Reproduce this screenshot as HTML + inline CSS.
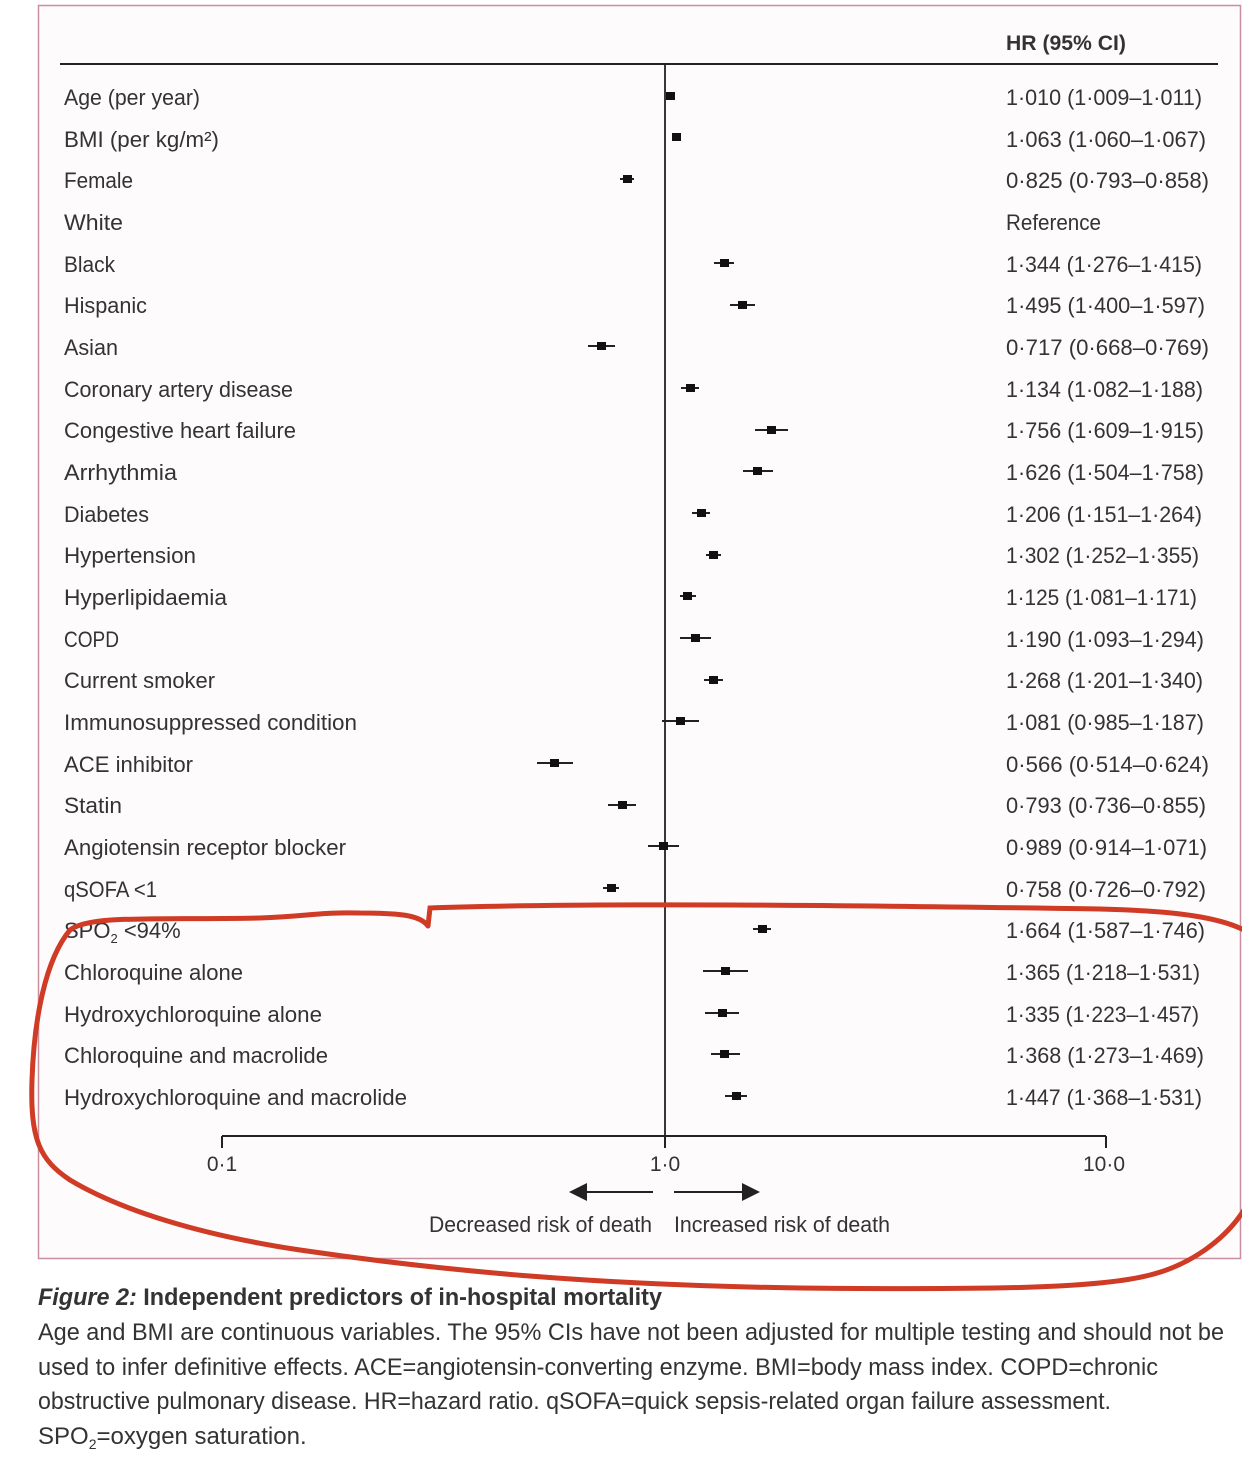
<!DOCTYPE html>
<html><head><meta charset="utf-8"><style>
body{margin:0;background:#fff}
svg{display:block}
text{font-family:"Liberation Sans",sans-serif;fill:#333}
</style></head><body>
<svg width="1242" height="1475" viewBox="0 0 1242 1475">
<rect x="38.5" y="5.5" width="1202" height="1253" fill="#fdfbfc" stroke="#c98f9f" stroke-width="1.5"/>
<line x1="60" y1="64" x2="1218" y2="64" stroke="#222" stroke-width="2"/>
<text x="1006" y="50" font-size="21" font-weight="bold" fill="#222" textLength="120" lengthAdjust="spacingAndGlyphs">HR (95% CI)</text>
<line x1="665" y1="64" x2="665" y2="1136" stroke="#222" stroke-width="1.8"/>
<line x1="222" y1="1136" x2="1106" y2="1136" stroke="#222" stroke-width="2"/>
<line x1="222" y1="1136" x2="222" y2="1148" stroke="#222" stroke-width="2"/>
<line x1="665" y1="1136" x2="665" y2="1148" stroke="#222" stroke-width="2"/>
<line x1="1106" y1="1136" x2="1106" y2="1148" stroke="#222" stroke-width="2"/>
<g font-size="21" text-anchor="middle">
<text x="222" y="1171">0·1</text><text x="665" y="1171">1·0</text><text x="1104" y="1171">10·0</text>
</g>
<line x1="585" y1="1192" x2="653" y2="1192" stroke="#222" stroke-width="2"/>
<polygon points="569,1192 587,1183 587,1201" fill="#222"/>
<line x1="674" y1="1192" x2="744" y2="1192" stroke="#222" stroke-width="2"/>
<polygon points="760,1192 742,1183 742,1201" fill="#222"/>
<text x="429" y="1232" font-size="22" textLength="223" lengthAdjust="spacingAndGlyphs">Decreased risk of death</text>
<text x="674" y="1232" font-size="22" textLength="216" lengthAdjust="spacingAndGlyphs">Increased risk of death</text>
<g font-size="22">
<text x="64" y="105" textLength="136" lengthAdjust="spacingAndGlyphs">Age (per year)</text>
<text x="64" y="147" textLength="155" lengthAdjust="spacingAndGlyphs">BMI (per kg/m²)</text>
<text x="64" y="188" textLength="69" lengthAdjust="spacingAndGlyphs">Female</text>
<text x="64" y="230" textLength="59" lengthAdjust="spacingAndGlyphs">White</text>
<text x="64" y="272" textLength="51" lengthAdjust="spacingAndGlyphs">Black</text>
<text x="64" y="313" textLength="83" lengthAdjust="spacingAndGlyphs">Hispanic</text>
<text x="64" y="355" textLength="54" lengthAdjust="spacingAndGlyphs">Asian</text>
<text x="64" y="397" textLength="229" lengthAdjust="spacingAndGlyphs">Coronary artery disease</text>
<text x="64" y="438" textLength="232" lengthAdjust="spacingAndGlyphs">Congestive heart failure</text>
<text x="64" y="480" textLength="113" lengthAdjust="spacingAndGlyphs">Arrhythmia</text>
<text x="64" y="522" textLength="85" lengthAdjust="spacingAndGlyphs">Diabetes</text>
<text x="64" y="563" textLength="132" lengthAdjust="spacingAndGlyphs">Hypertension</text>
<text x="64" y="605" textLength="163" lengthAdjust="spacingAndGlyphs">Hyperlipidaemia</text>
<text x="64" y="647" textLength="55" lengthAdjust="spacingAndGlyphs">COPD</text>
<text x="64" y="688" textLength="151" lengthAdjust="spacingAndGlyphs">Current smoker</text>
<text x="64" y="730" textLength="293" lengthAdjust="spacingAndGlyphs">Immunosuppressed condition</text>
<text x="64" y="772" textLength="129" lengthAdjust="spacingAndGlyphs">ACE inhibitor</text>
<text x="64" y="813" textLength="58" lengthAdjust="spacingAndGlyphs">Statin</text>
<text x="64" y="855" textLength="282" lengthAdjust="spacingAndGlyphs">Angiotensin receptor blocker</text>
<text x="64" y="897" textLength="93" lengthAdjust="spacingAndGlyphs">qSOFA &lt;1</text>
<text x="64" y="938">SPO<tspan font-size="13" dy="5">2</tspan><tspan dy="-5"> &lt;94%</tspan></text>
<text x="64" y="980" textLength="179" lengthAdjust="spacingAndGlyphs">Chloroquine alone</text>
<text x="64" y="1022" textLength="258" lengthAdjust="spacingAndGlyphs">Hydroxychloroquine alone</text>
<text x="64" y="1063" textLength="264" lengthAdjust="spacingAndGlyphs">Chloroquine and macrolide</text>
<text x="64" y="1105" textLength="343" lengthAdjust="spacingAndGlyphs">Hydroxychloroquine and macrolide</text>
</g>
<g font-size="22">
<text x="1006" y="105" textLength="196" lengthAdjust="spacingAndGlyphs">1·010 (1·009–1·011)</text>
<text x="1006" y="147" textLength="200" lengthAdjust="spacingAndGlyphs">1·063 (1·060–1·067)</text>
<text x="1006" y="188" textLength="203" lengthAdjust="spacingAndGlyphs">0·825 (0·793–0·858)</text>
<text x="1006" y="230" textLength="95" lengthAdjust="spacingAndGlyphs">Reference</text>
<text x="1006" y="272" textLength="196" lengthAdjust="spacingAndGlyphs">1·344 (1·276–1·415)</text>
<text x="1006" y="313" textLength="199" lengthAdjust="spacingAndGlyphs">1·495 (1·400–1·597)</text>
<text x="1006" y="355" textLength="203" lengthAdjust="spacingAndGlyphs">0·717 (0·668–0·769)</text>
<text x="1006" y="397" textLength="197" lengthAdjust="spacingAndGlyphs">1·134 (1·082–1·188)</text>
<text x="1006" y="438" textLength="198" lengthAdjust="spacingAndGlyphs">1·756 (1·609–1·915)</text>
<text x="1006" y="480" textLength="198" lengthAdjust="spacingAndGlyphs">1·626 (1·504–1·758)</text>
<text x="1006" y="522" textLength="196" lengthAdjust="spacingAndGlyphs">1·206 (1·151–1·264)</text>
<text x="1006" y="563" textLength="193" lengthAdjust="spacingAndGlyphs">1·302 (1·252–1·355)</text>
<text x="1006" y="605" textLength="191" lengthAdjust="spacingAndGlyphs">1·125 (1·081–1·171)</text>
<text x="1006" y="647" textLength="198" lengthAdjust="spacingAndGlyphs">1·190 (1·093–1·294)</text>
<text x="1006" y="688" textLength="197" lengthAdjust="spacingAndGlyphs">1·268 (1·201–1·340)</text>
<text x="1006" y="730" textLength="198" lengthAdjust="spacingAndGlyphs">1·081 (0·985–1·187)</text>
<text x="1006" y="772" textLength="203" lengthAdjust="spacingAndGlyphs">0·566 (0·514–0·624)</text>
<text x="1006" y="813" textLength="200" lengthAdjust="spacingAndGlyphs">0·793 (0·736–0·855)</text>
<text x="1006" y="855" textLength="201" lengthAdjust="spacingAndGlyphs">0·989 (0·914–1·071)</text>
<text x="1006" y="897" textLength="200" lengthAdjust="spacingAndGlyphs">0·758 (0·726–0·792)</text>
<text x="1006" y="938" textLength="199" lengthAdjust="spacingAndGlyphs">1·664 (1·587–1·746)</text>
<text x="1006" y="980" textLength="194" lengthAdjust="spacingAndGlyphs">1·365 (1·218–1·531)</text>
<text x="1006" y="1022" textLength="193" lengthAdjust="spacingAndGlyphs">1·335 (1·223–1·457)</text>
<text x="1006" y="1063" textLength="198" lengthAdjust="spacingAndGlyphs">1·368 (1·273–1·469)</text>
<text x="1006" y="1105" textLength="196" lengthAdjust="spacingAndGlyphs">1·447 (1·368–1·531)</text>
</g>
<g stroke="#222" stroke-width="2">
<line x1="620" y1="179" x2="634" y2="179"/>
<line x1="714" y1="263" x2="734" y2="263"/>
<line x1="730" y1="305" x2="755" y2="305"/>
<line x1="588" y1="346" x2="615" y2="346"/>
<line x1="681" y1="388" x2="699" y2="388"/>
<line x1="755" y1="430" x2="788" y2="430"/>
<line x1="743" y1="471" x2="773" y2="471"/>
<line x1="692" y1="513" x2="710" y2="513"/>
<line x1="706" y1="555" x2="721" y2="555"/>
<line x1="680" y1="596" x2="696" y2="596"/>
<line x1="680" y1="638" x2="711" y2="638"/>
<line x1="704" y1="680" x2="723" y2="680"/>
<line x1="662" y1="721" x2="699" y2="721"/>
<line x1="537" y1="763" x2="573" y2="763"/>
<line x1="608" y1="805" x2="636" y2="805"/>
<line x1="648" y1="846" x2="679" y2="846"/>
<line x1="603" y1="888" x2="619" y2="888"/>
<line x1="753" y1="929" x2="771" y2="929"/>
<line x1="703" y1="971" x2="748" y2="971"/>
<line x1="705" y1="1013" x2="739" y2="1013"/>
<line x1="711" y1="1054" x2="740" y2="1054"/>
<line x1="725" y1="1096" x2="747" y2="1096"/>
</g>
<g fill="#111">
<rect x="666" y="92" width="9" height="8"/>
<rect x="672" y="133" width="9" height="8"/>
<rect x="623" y="175" width="9" height="8"/>
<rect x="720" y="259" width="9" height="8"/>
<rect x="738" y="301" width="9" height="8"/>
<rect x="597" y="342" width="9" height="8"/>
<rect x="686" y="384" width="9" height="8"/>
<rect x="767" y="426" width="9" height="8"/>
<rect x="753" y="467" width="9" height="8"/>
<rect x="697" y="509" width="9" height="8"/>
<rect x="709" y="551" width="9" height="8"/>
<rect x="683" y="592" width="9" height="8"/>
<rect x="691" y="634" width="9" height="8"/>
<rect x="709" y="676" width="9" height="8"/>
<rect x="676" y="717" width="9" height="8"/>
<rect x="550" y="759" width="9" height="8"/>
<rect x="618" y="801" width="9" height="8"/>
<rect x="659" y="842" width="9" height="8"/>
<rect x="607" y="884" width="9" height="8"/>
<rect x="758" y="925" width="9" height="8"/>
<rect x="721" y="967" width="9" height="8"/>
<rect x="718" y="1009" width="9" height="8"/>
<rect x="720" y="1050" width="9" height="8"/>
<rect x="732" y="1092" width="9" height="8"/>
</g>
<path d="M428,926 L430,908 C600,902 900,906 1100,909 C1180,911 1220,918 1244,930 M1244,1210 C1225,1240 1190,1265 1150,1275 C1100,1288 1000,1290 800,1288 C600,1285 450,1272 300,1250 C200,1235 120,1210 70,1180 C40,1160 30,1140 32,1080 C34,1020 45,960 70,930 C90,915 150,920 260,918 C310,916 320,912 360,913 C400,913 420,915 428,926" fill="none" stroke="#cf3b25" stroke-width="5" stroke-linecap="round"/>
<text x="38" y="1305" font-size="24" font-weight="bold" fill="#222" textLength="624" lengthAdjust="spacingAndGlyphs"><tspan font-style="italic">Figure 2:</tspan> Independent predictors of in-hospital mortality</text>
<g font-size="24" fill="#333">
<text x="38" y="1340" textLength="1186" lengthAdjust="spacingAndGlyphs">Age and BMI are continuous variables. The 95% CIs have not been adjusted for multiple testing and should not be</text>
<text x="38" y="1375" textLength="1120" lengthAdjust="spacingAndGlyphs">used to infer definitive effects. ACE=angiotensin-converting enzyme. BMI=body mass index. COPD=chronic</text>
<text x="38" y="1409" textLength="1073" lengthAdjust="spacingAndGlyphs">obstructive pulmonary disease. HR=hazard ratio. qSOFA=quick sepsis-related organ failure assessment.</text>
<text x="38" y="1444">SPO<tspan font-size="14" dy="5">2</tspan><tspan dy="-5">=oxygen saturation.</tspan></text>
</g>
</svg>
</body></html>
